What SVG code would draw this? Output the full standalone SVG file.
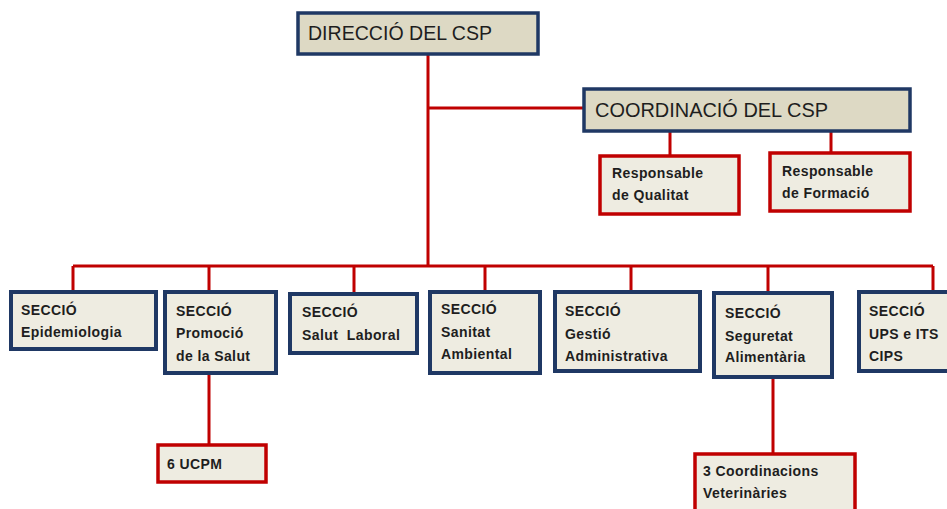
<svg xmlns="http://www.w3.org/2000/svg" width="947" height="509" viewBox="0 0 947 509">
<style>
.hdr{fill:#ddd9c4;stroke:#1f3864;stroke-width:3.5}
.sec{fill:#eeece1;stroke:#1f3864;stroke-width:4}
.red{fill:#eeece1;stroke:#c00000;stroke-width:3.5}
.ln{stroke:#c00000;stroke-width:3;fill:none}
.ht{font-family:"Liberation Sans",Arial,sans-serif;font-size:20px;fill:#1e1e1e}
.t{font-family:"Liberation Sans",Arial,sans-serif;font-size:14px;font-weight:bold;letter-spacing:0.4px;fill:#1e1e1e}
</style>
<rect width="947" height="509" fill="#ffffff"/>
<g id="connectors">
<path class="ln" d="M428 54V266M428 108H583M670 131V155M831 131V152M73 266H933M73 266V291M209 266V291M354 266V293M485 266V291M631 266V291M768 266V292M933 266V291M209 373V444M773 377V453"/>
</g>
<g id="direccio"><rect class="hdr" x="298" y="13" width="240" height="41"/><text class="ht" x="308" y="40" textLength="184" lengthAdjust="spacingAndGlyphs">DIRECCIÓ DEL CSP</text></g>
<g id="coordinacio"><rect class="hdr" x="584" y="89" width="326" height="42"/><text class="ht" x="595" y="117" textLength="233" lengthAdjust="spacingAndGlyphs">COORDINACIÓ DEL CSP</text></g>
<g id="qualitat"><rect class="red" x="600" y="156" width="139" height="58"/><text class="t" x="612" y="178">Responsable</text><text class="t" x="612" y="200">de Qualitat</text></g>
<g id="formacio"><rect class="red" x="770" y="153" width="140" height="58"/><text class="t" x="782" y="176">Responsable</text><text class="t" x="782" y="198">de Formació</text></g>
<g id="epidemiologia"><rect class="sec" x="11" y="292" width="145" height="57"/><text class="t" x="21" y="315">SECCIÓ</text><text class="t" x="21" y="337">Epidemiologia</text></g>
<g id="promocio"><rect class="sec" x="165" y="292" width="111" height="81"/><text class="t" x="176" y="316">SECCIÓ</text><text class="t" x="176" y="338">Promoció</text><text class="t" x="176" y="361">de la Salut</text></g>
<g id="laboral"><rect class="sec" x="290" y="294" width="127" height="59"/><text class="t" x="302" y="317">SECCIÓ</text><text class="t" x="302" y="340" xml:space="preserve">Salut  Laboral</text></g>
<g id="ambiental"><rect class="sec" x="430" y="292" width="110" height="81"/><text class="t" x="441" y="314">SECCIÓ</text><text class="t" x="441" y="337">Sanitat</text><text class="t" x="441" y="359">Ambiental</text></g>
<g id="gestio"><rect class="sec" x="555" y="292" width="145" height="79"/><text class="t" x="565" y="316">SECCIÓ</text><text class="t" x="565" y="339">Gestió</text><text class="t" x="565" y="361">Administrativa</text></g>
<g id="seguretat"><rect class="sec" x="714" y="293" width="118" height="84"/><text class="t" x="725" y="318">SECCIÓ</text><text class="t" x="725" y="341">Seguretat</text><text class="t" x="725" y="362">Alimentària</text></g>
<g id="ups"><rect class="sec" x="859" y="292" width="92" height="79"/><text class="t" x="869" y="316">SECCIÓ</text><text class="t" x="869" y="339">UPS e ITS</text><text class="t" x="869" y="361">CIPS</text></g>
<g id="ucpm"><rect class="red" x="158" y="445" width="108" height="37"/><text class="t" x="167" y="469">6 UCPM</text></g>
<g id="veterinaries"><rect class="red" x="695" y="454" width="160" height="60"/><text class="t" x="703" y="476">3 Coordinacions</text><text class="t" x="703" y="498">Veterinàries</text></g>
</svg>
